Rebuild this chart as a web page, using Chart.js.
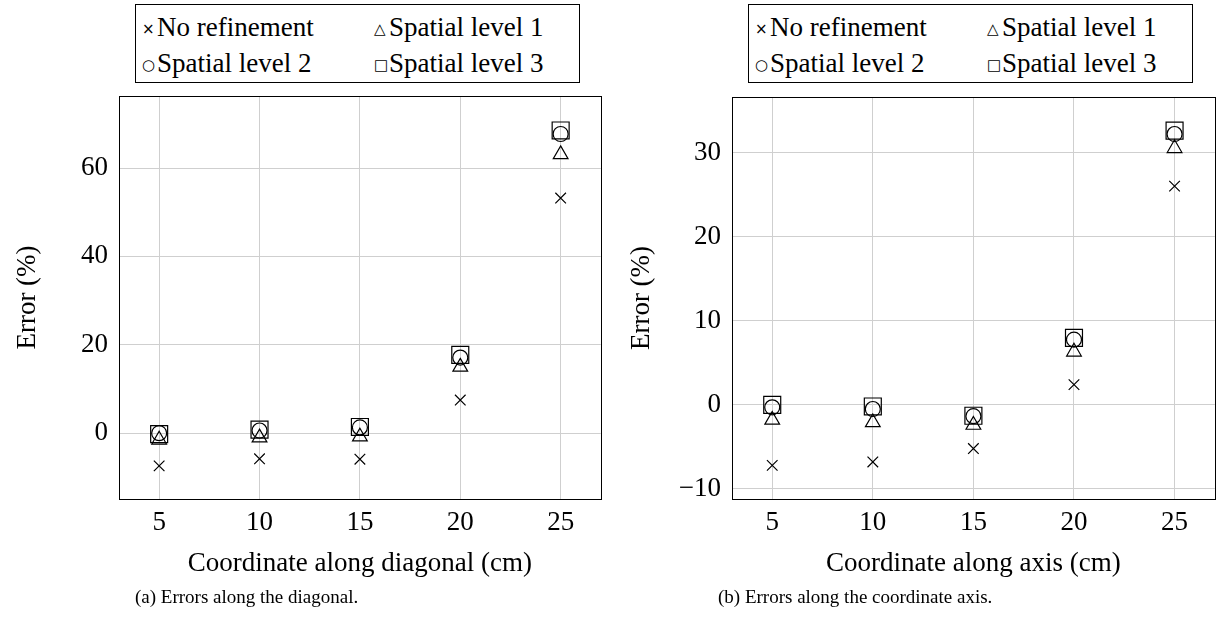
<!DOCTYPE html>
<html>
<head>
<meta charset="utf-8">
<script src="https://cdn.jsdelivr.net/npm/chart.js@4.4.1/dist/chart.umd.min.js"></script>
<style>
  body { margin: 0; width: 1228px; height: 626px; background: #fff; position: relative; overflow: hidden; font-family: "Liberation Serif", "Times New Roman", "DejaVu Serif", serif; color: #000; }
  .panel { position: absolute; top: 0; width: 614px; height: 626px; }
  .legend { position: absolute; top: 4px; width: 443px; height: 77px; border: 1px solid #000; background: #fff; font-size: 27px; }
  .item { position: absolute; white-space: nowrap; line-height: 30px; }
  .mk { font-family: "DejaVu Sans", sans-serif; font-size: 15px; display: inline-block; width: 13px; margin-right: 2px; vertical-align: 2px; }
  .caption { position: absolute; top: 586px; font-size: 19px; white-space: nowrap; }
</style>
</head>
<body>
<div class="panel" style="left:0"><canvas id="diag" width="614" height="626"></canvas></div>
<div class="panel" style="left:614px"><canvas id="axis" width="614" height="626"></canvas></div>
<div class="legend" id="legDiag" style="left:135px"></div>
<div class="legend" id="legAxis" style="left:748px"></div>
<div class="caption" style="left:135px">(a) Errors along the diagonal.</div>
<div class="caption" style="left:718px">(b) Errors along the coordinate axis.</div>
<script>
const xCoords = [5, 10, 15, 20, 25];
const seriesNames = ["No refinement", "Spatial level 1", "Spatial level 2", "Spatial level 3"];
const legendGlyphs = ["\u00d7", "\u25b3", "\u25cb", "\u25a1"];

// (a) diagonal
const diagNoRefine = [-7.4, -5.8, -5.9, 7.5, 53.2];
const diagLevel1 = [-1.5, -1.0, -0.8, 15.0, 63.1];
const diagLevel2 = [0.0, 0.6, 1.3, 17.1, 67.7];
const diagLevel3 = [-0.2, 0.8, 1.4, 17.7, 68.5];
const diagYTicks = [0, 20, 40, 60];

// (b) coordinate axis
const axisNoRefine = [-7.2, -6.8, -5.2, 2.4, 26.0];
const axisLevel1 = [-1.8, -2.1, -2.4, 6.3, 30.5];
const axisLevel2 = [-0.3, -0.5, -1.35, 7.75, 32.2];
const axisLevel3 = [0.0, -0.2, -1.3, 7.95, 32.6];
const axisYTicks = [-10, 0, 10, 20, 30];

const FONT = "'Liberation Serif', 'Times New Roman', 'DejaVu Serif', serif";

const markerStyles = [
  { pointStyle: "crossRot", pointRadius: 7.5 },
  { pointStyle: "triangle", pointRadius: 8.5 },
  { pointStyle: "circle", pointRadius: 7.5 },
  { pointStyle: "rect", pointRadius: 12 }
];

const frame = {
  id: "frame",
  beforeDatasetsDraw(chart) {
    const a = chart.chartArea, ctx = chart.ctx;
    ctx.save();
    ctx.strokeStyle = "#000";
    ctx.lineWidth = 1;
    ctx.strokeRect(Math.round(a.left) + 0.5, Math.round(a.top) + 0.5,
      Math.round(a.right - a.left), Math.round(a.bottom - a.top));
    ctx.restore();
  }
};

function buildLegend(el) {
  const pos = [[6, 7], [238, 7], [6, 43], [238, 43]];
  seriesNames.forEach((n, i) => {
    const d = document.createElement("div");
    d.className = "item";
    d.style.left = pos[i][0] + "px";
    d.style.top = pos[i][1] + "px";
    d.innerHTML = '<span class="mk">' + legendGlyphs[i] + '</span>' + n;
    el.appendChild(d);
  });
}

function makeChart(id, series, yTicks, yMin, yMax, xTitle, pad, yWidth) {
  const datasets = series.map((vals, i) => ({
    label: seriesNames[i],
    data: xCoords.map((x, k) => ({ x: x, y: vals[k] })),
    borderColor: "#000",
    backgroundColor: "rgba(0,0,0,0)",
    pointBackgroundColor: "rgba(0,0,0,0)",
    pointBorderColor: "#000",
    pointBorderWidth: 1.2,
    pointHoverRadius: markerStyles[i].pointRadius,
    showLine: false,
    ...markerStyles[i]
  }));

  return new Chart(document.getElementById(id), {
    type: "scatter",
    data: { datasets },
    plugins: [frame],
    options: {
      responsive: false,
      animation: false,
      layout: { padding: pad },
      plugins: { legend: { display: false }, tooltip: { enabled: false } },
      scales: {
        x: {
          type: "linear",
          min: 3,
          max: 27,
          afterBuildTicks: (s) => { s.ticks = xCoords.map(v => ({ value: v })); },
          afterFit: (s) => { s.height = 90; },
          grid: { color: "#cfcfcf", lineWidth: 1, drawTicks: false },
          border: { color: "#000", width: 1 },
          ticks: { color: "#000", padding: 8, font: { family: FONT, size: 27 } },
          title: { display: true, text: xTitle, color: "#000", padding: { bottom: 9 }, font: { family: FONT, size: 27 } }
        },
        y: {
          type: "linear",
          min: yMin,
          max: yMax,
          afterBuildTicks: (s) => { s.ticks = yTicks.map(v => ({ value: v })); },
          afterFit: (s) => { s.width = yWidth; },
          grid: { color: "#cfcfcf", lineWidth: 1, drawTicks: false },
          border: { color: "#000", width: 1 },
          ticks: {
            color: "#000", padding: 11, font: { family: FONT, size: 27 },
            callback: (v) => String(v).replace("-", "\u2212")
          },
          title: { display: true, text: "Error (%)", color: "#000", padding: { top: 12 }, font: { family: FONT, size: 27 } }
        }
      }
    }
  });
}

buildLegend(document.getElementById("legDiag"));
buildLegend(document.getElementById("legAxis"));

makeChart("diag", [diagNoRefine, diagLevel1, diagLevel2, diagLevel3], diagYTicks, -14.9, 76.3,
  "Coordinate along diagonal (cm)", { left: 0, right: 10, top: 96, bottom: 37 }, 119);
makeChart("axis", [axisNoRefine, axisLevel1, axisLevel2, axisLevel3], axisYTicks, -11.2, 36.6,
  "Coordinate along axis (cm)", { left: 0, right: 11, top: 97, bottom: 37 }, 118);
</script>
</body>
</html>
